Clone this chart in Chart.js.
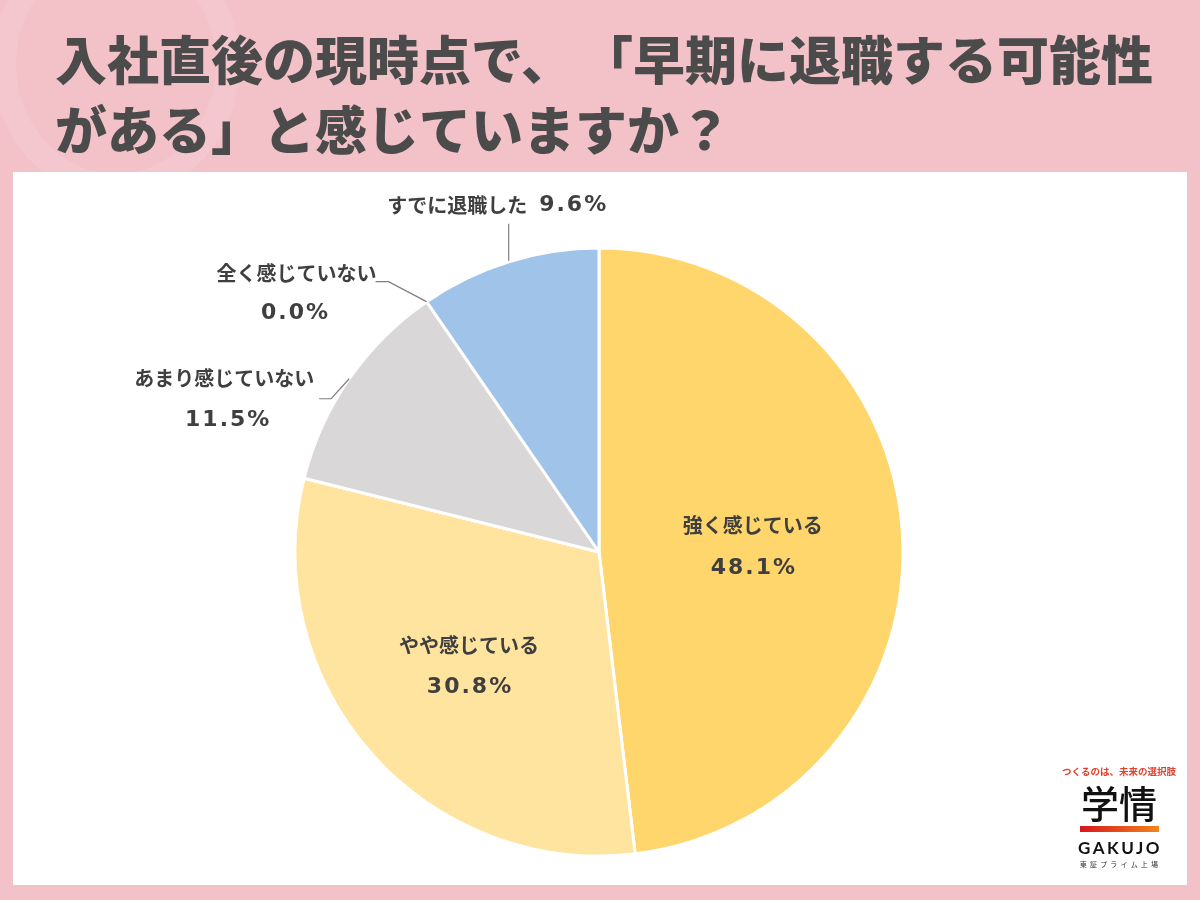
<!DOCTYPE html>
<html><head><meta charset="utf-8">
<script src="https://cdn.jsdelivr.net/npm/chart.js@4.4.1/dist/chart.umd.min.js"></script>
<style>
html,body{margin:0;padding:0;}
body{width:1200px;height:900px;background:#F3C1C8;position:relative;overflow:hidden;font-family:"Noto Sans CJK JP",sans-serif;}
#deco{position:absolute;left:-8px;top:-70px;width:200px;height:220px;border-radius:50%;border:24px solid rgba(255,255,255,0.11);}
#title{position:absolute;left:55px;top:23px;font-size:52px;font-weight:900;color:#4B4B4B;line-height:70px;white-space:nowrap;}
#title .gap{display:inline-block;width:8px;}
#panel{position:absolute;left:13px;top:172px;width:1174px;height:713px;background:#fff;}
#c{position:absolute;left:0;top:0;}
#logo{position:absolute;left:1059px;top:764px;width:120px;text-align:center;}
#tag{font-size:9.5px;font-weight:700;color:#E4402B;line-height:14px;white-space:nowrap;}
#gj{font-size:38px;font-weight:500;color:#111;line-height:44px;margin-top:2px;}
#bar{width:79px;height:6px;margin:2px auto 0;background:linear-gradient(90deg,#D8141E,#F2851A);}
#en{font-family:Lato,"Open Sans",sans-serif;font-size:17px;font-weight:700;color:#111;letter-spacing:2.5px;line-height:20px;margin-top:6px;padding-left:2px;}
#tse{font-size:7px;color:#333;letter-spacing:3.2px;line-height:10px;margin-top:1px;padding-left:3px;}
</style></head>
<body>
<div id="deco"></div>
<div id="title">入社直後の現時点で、<span class="gap"></span>「早期に退職する可能性<br>がある」と感じていますか？</div>
<div id="panel"><canvas id="c" width="1174" height="713"></canvas></div>
<div id="logo">
  <div id="tag">つくるのは、未来の選択肢</div>
  <div id="gj">学情</div>
  <div id="bar"></div>
  <div id="en">GAKUJO</div>
  <div id="tse">東証プライム上場</div>
</div>
<script>
const categories = ["強く感じている", "やや感じている", "あまり感じていない", "全く感じていない", "すでに退職した"];
const values = [48.1, 30.8, 11.5, 0.0, 9.6];
const sliceColors = ["#FFD66B", "#FFE49F", "#DAD7D9", "#C9C9C9", "#9FC3E9"];

const JP_FONT = "bold 20px 'Noto Sans CJK JP'";
const NUM_FONT = "bold 22px 'DejaVu Sans'";
const TEXT_COLOR = "#3F3F3F";

function pct(v){ return v.toFixed(1) + "%"; }

function drawText(ctx, str, x, y, font, spacing){
  ctx.font = font;
  ctx.letterSpacing = spacing || "0px";
  ctx.fillText(str, x, y);
  ctx.letterSpacing = "0px";
}

const labelPlugin = {
  id: 'sliceLabels',
  afterDatasetsDraw(chart, args, opts){
    const ctx = chart.ctx;
    const meta = chart.getDatasetMeta(0);
    ctx.save();
    ctx.fillStyle = TEXT_COLOR;
    ctx.textBaseline = 'middle';
    ctx.textAlign = 'center';
    meta.data.forEach((arc, i) => {
      const it = opts.items[i];
      const p = arc.getProps(['x','y','startAngle','endAngle','outerRadius'], true);
      const mid = (p.startAngle + p.endAngle) / 2;
      const name = categories[i], val = pct(values[i]);
      if (it.mode === 'inside') {
        const d = p.outerRadius * it.f;
        const cx = p.x + Math.cos(mid) * d, cy = p.y + Math.sin(mid) * d + it.dy;
        drawText(ctx, name, cx, cy - 21, JP_FONT);
        drawText(ctx, val, cx + 1, cy + 21, NUM_FONT, "2px");
      } else {
        const ax = p.x + Math.cos(mid) * p.outerRadius, ay = p.y + Math.sin(mid) * p.outerRadius;
        ctx.strokeStyle = '#7F7F7F';
        ctx.lineWidth = 1.2;
        ctx.beginPath();
        it.leader.forEach((pt, k) => { const lx = ax + pt[0], ly = ay + pt[1]; if (k === 0) ctx.moveTo(lx, ly); else ctx.lineTo(lx, ly); });
        ctx.stroke();
        if (it.mode === 'two') {
          drawText(ctx, name, ax + it.t1[0], ay + it.t1[1], JP_FONT);
          drawText(ctx, val, ax + it.t2[0], ay + it.t2[1], NUM_FONT, "2px");
        } else {
          ctx.font = JP_FONT; const w1 = ctx.measureText(name).width;
          ctx.font = NUM_FONT; ctx.letterSpacing = "2px"; const w2 = ctx.measureText(val).width; ctx.letterSpacing = "0px";
          const gap = 12, total = w1 + gap + w2;
          const left = ax + it.t1[0] - total / 2, ty = ay + it.t1[1];
          ctx.textAlign = 'left';
          drawText(ctx, name, left, ty, JP_FONT);
          drawText(ctx, val, left + w1 + gap, ty, NUM_FONT, "2px");
          ctx.textAlign = 'center';
        }
      }
    });
    ctx.restore();
  }
};

new Chart(document.getElementById('c'), {
  type: 'pie',
  data: {
    labels: categories,
    datasets: [{
      data: values,
      backgroundColor: sliceColors,
      borderColor: '#FFFFFF',
      borderWidth: 3
    }]
  },
  options: {
    responsive: false,
    animation: false,
    radius: 304,
    layout: { padding: { top: 47, right: 2, left: 0, bottom: 0 } },
    plugins: {
      legend: { display: false },
      tooltip: { enabled: false },
      sliceLabels: {
        items: [
          { mode: 'inside', f: 0.507, dy: 4 },
          { mode: 'inside', f: 0.57, dy: 0 },
          { mode: 'two', leader: [[0,0],[-18,20],[-30,20]], t1: [-125, 0], t2: [-121, 42] },
          { mode: 'two', leader: [[0,0],[-38,-20],[-51,-20]], t1: [-130, -28], t2: [-131, 12] },
          { mode: 'one', leader: [[0,-1],[0,-38]], t1: [-11, -56] }
        ]
      }
    }
  },
  plugins: [labelPlugin]
});
</script>
</body></html>
